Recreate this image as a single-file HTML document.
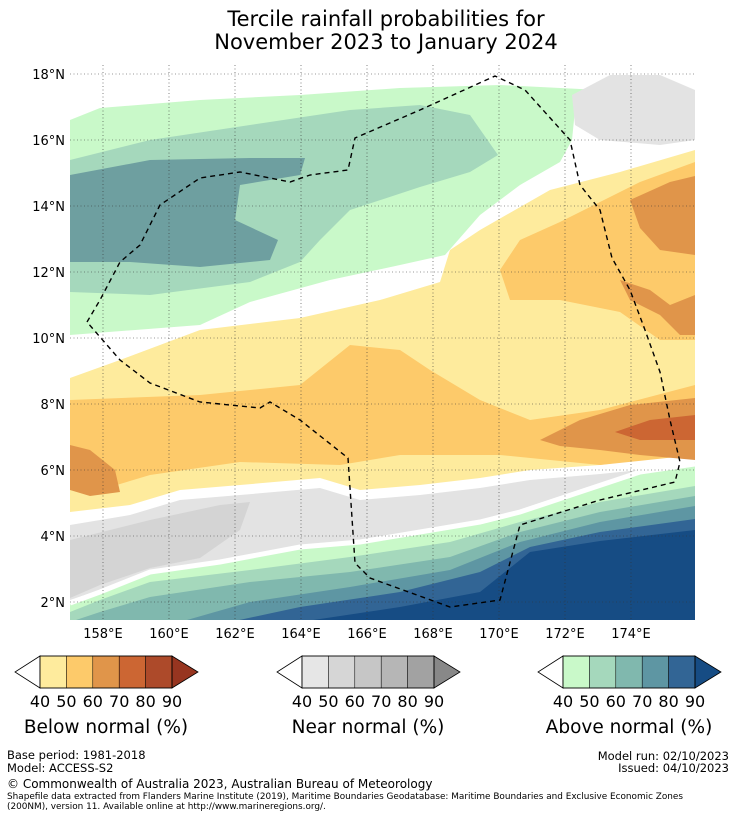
<!DOCTYPE html>
<html><head><meta charset="utf-8">
<style>
body{margin:0;background:#fff;width:736px;height:816px;overflow:hidden;font-family:"DejaVu Sans","Liberation Sans",sans-serif;}
svg text{font-family:"DejaVu Sans","Liberation Sans",sans-serif;}
</style></head>
<body>
<svg id="chart" width="736" height="816" viewBox="0 0 736 816" xmlns="http://www.w3.org/2000/svg">
<text x="386" y="26" font-size="21" text-anchor="middle">Tercile rainfall probabilities for</text>
<text x="386" y="49" font-size="21" text-anchor="middle">November 2023 to January 2024</text>
<defs><clipPath id="mapclip"><rect x="70" y="65" width="625" height="555"/></clipPath></defs>
<g id="map" clip-path="url(#mapclip)"></g>
<g id="over"></g>
<g id="bars"></g>
<text x="7" y="759" font-size="11.5">Base period: 1981-2018</text>
<text x="7" y="772" font-size="11.5">Model: ACCESS-S2</text>
<text x="729" y="760" font-size="11.5" text-anchor="end">Model run: 02/10/2023</text>
<text x="729" y="772" font-size="11.5" text-anchor="end">Issued: 04/10/2023</text>
<text x="7" y="788" font-size="12">© Commonwealth of Australia 2023, Australian Bureau of Meteorology</text>
<text x="7" y="799" font-size="8.9">Shapefile data extracted from Flanders Marine Institute (2019), Maritime Boundaries Geodatabase: Maritime Boundaries and Exclusive Economic Zones</text>
<text x="7" y="809" font-size="8.9">(200NM), version 11. Available online at http://www.marineregions.org/.</text>
</svg>
<script>
const lonTicks=[158,160,162,164,166,168,170,172,174];
const latTicks=[2,4,6,8,10,12,14,16,18];
const barTicks=[40,50,60,70,80,90];
const belowColors=['#feeb9d','#fdca6a','#e0954a','#cc6633','#ad4a2a','#973520'];
const nearColors=['#e6e6e6','#d6d6d6','#c6c6c6','#b6b6b6','#a2a2a2','#888888'];
const aboveColors=['#c9f9c9','#a5d8bc','#80b8ae','#5e96a3','#326595','#164c84'];
const barTitles=['Below normal (%)','Near normal (%)','Above normal (%)'];
const NS='http://www.w3.org/2000/svg';
const X=lon=>70+(lon-157)*33;
const Y=lat=>74+(18-lat)*33;
const regions=[
['above-40-north','#c9f9c9',[[70,120],[100,108],[200,100],[300,95],[400,88],[500,85],[600,90],[575,110],[572,140],[560,162],[520,185],[480,215],[445,255],[400,265],[330,280],[250,302],[200,325],[70,335]]],
['above-50-north','#a5d8bc',[[70,160],[150,140],[250,125],[350,110],[420,105],[470,115],[498,155],[470,172],[420,187],[350,210],[320,240],[300,262],[250,282],[150,295],[70,292]]],
['above-60-north','#6e9fa0',[[70,175],[150,160],[250,158],[305,158],[300,175],[240,185],[235,220],[278,240],[270,260],[200,267],[130,262],[70,262]]],
['near-40-ne','#e3e3e3',[[572,95],[610,75],[660,75],[695,90],[695,140],[660,145],[600,140],[575,125]]],
['below-40','#feeb9d',[[70,378],[120,360],[200,330],[300,318],[380,300],[440,282],[450,250],[480,230],[550,190],[620,172],[695,150],[695,455],[640,460],[600,465],[530,470],[480,478],[420,485],[360,490],[320,478],[240,485],[180,490],[130,505],[70,512]]],
['below-50-mid','#fdca6a',[[70,400],[200,395],[300,385],[350,345],[400,350],[430,370],[480,400],[530,420],[600,410],[695,385],[695,455],[600,465],[500,455],[400,455],[340,465],[240,462],[150,475],[100,490],[70,490]]],
['below-50-ne','#fdca6a',[[500,270],[520,240],[560,222],[600,202],[640,182],[695,162],[695,340],[660,340],[620,312],[560,300],[510,300]]],
['below-60-ne','#e0954a',[[630,200],[670,182],[695,176],[695,255],[660,250],[640,228]]],
['below-60-e','#e0954a',[[620,280],[650,290],[670,305],[695,295],[695,335],[680,335],[660,315],[630,300]]],
['below-60-se','#e0954a',[[540,440],[580,420],[630,405],[695,398],[695,460],[640,455],[600,450],[560,446]]],
['below-70-se','#cc6633',[[615,432],[650,420],[695,415],[695,440],[640,440]]],
['below-60-w','#e0954a',[[70,445],[90,450],[115,470],[120,492],[90,496],[70,490]]],
['near-40-s','#e3e3e3',[[70,525],[130,515],[180,500],[240,495],[320,488],[360,500],[420,495],[480,488],[530,480],[600,474],[640,470],[695,465],[695,462],[640,470],[580,490],[520,510],[480,520],[420,530],[360,540],[300,545],[220,560],[150,570],[100,590],[70,600]]],
['near-50-sw','#d4d4d4',[[70,540],[150,520],[220,505],[250,502],[240,530],[200,558],[150,568],[100,585],[70,598]]]
];
const aboveTops=[
[[70,603],[100,592],[150,572],[220,562],[300,547],[360,542],[420,532],[480,522],[520,512],[580,492],[640,472],[695,464]],
[[70,612],[100,600],[150,582],[250,570],[350,557],[450,542],[520,522],[600,502],[695,486]],
[[70,622],[100,612],[150,597],[250,582],[350,572],[450,557],[520,532],[600,512],[695,496]],
[[180,622],[250,602],[350,587],[450,570],[520,542],[600,522],[695,506]],
[[230,622],[300,607],[400,592],[480,572],[530,547],[600,532],[695,519]],
[[300,622],[400,607],[480,592],[530,552],[600,541],[695,530]]
];
const border=[[87,322],[100,300],[120,262],[140,245],[160,205],[200,178],[240,172],[290,182],[310,175],[348,170],[355,138],[420,110],[495,76],[525,90],[570,140],[580,185],[600,210],[612,258],[630,290],[645,330],[660,372],[670,420],[680,462],[675,482],[600,500],[520,525],[500,600],[450,607],[370,578],[355,563],[348,458],[300,420],[270,402],[260,408],[200,402],[150,383],[120,360],[87,322]];
const map=document.getElementById('map'),over=document.getElementById('over'),bars=document.getElementById('bars');
function mk(tag,attrs,parent){const e=document.createElementNS(NS,tag);for(const k in attrs)e.setAttribute(k,attrs[k]);parent.appendChild(e);return e;}
const pts=a=>a.map(p=>p.join(',')).join(' ');
regions.forEach(r=>{const e=mk('polygon',{points:pts(r[2]),fill:r[1]},map);

});
aboveTops.forEach((t,i)=>{const poly=t.concat([[695,625],[70,625]]);const e=mk('polygon',{points:pts(poly),fill:aboveColors[i]},map);

});
const gap=mk('polyline',{points:pts(aboveTops[0]),fill:'none',stroke:'#fff','stroke-width':5},map);


lonTicks.forEach(v=>{const g=mk('line',{x1:X(v),x2:X(v),y1:65,y2:620,stroke:'#333','stroke-width':0.6,'stroke-dasharray':'1,2.5'},over);


const t=mk('text',{x:X(v),y:638,'font-size':13,'text-anchor':'middle'},over);t.textContent=v+'°E';

});
latTicks.forEach(v=>{const g=mk('line',{x1:70,x2:695,y1:Y(v),y2:Y(v),stroke:'#333','stroke-width':0.6,'stroke-dasharray':'1,2.5'},over);


const t=mk('text',{x:65,y:Y(v)+5,'font-size':13,'text-anchor':'end'},over);t.textContent=v+'°N';

});
const b=mk('polyline',{points:pts(border),fill:'none',stroke:'#000','stroke-width':1.4,'stroke-dasharray':'5,4'},over);


const starts=[40,302,563];const sets=[belowColors,nearColors,aboveColors];
const bw=26.4,by=656,bh=32;
sets.forEach((cols,si)=>{const x0=starts[si];
const g=mk('g',{},bars);


mk('polygon',{points:`${x0},${by} ${x0-25},${by+bh/2} ${x0},${by+bh}`,fill:'#fff',stroke:'#000','stroke-width':0.8},g);
for(let i=0;i<5;i++)mk('rect',{x:x0+i*bw,y:by,width:bw,height:bh,fill:cols[i],stroke:'#000','stroke-width':0.5},g);
const xe=x0+5*bw;
mk('polygon',{points:`${xe},${by} ${xe+26},${by+bh/2} ${xe},${by+bh}`,fill:cols[5],stroke:'#000','stroke-width':0.8},g);
mk('rect',{x:x0,y:by,width:5*bw,height:bh,fill:'none',stroke:'#000','stroke-width':0.8},g);
barTicks.forEach((t,i)=>{const tx=mk('text',{x:x0+i*bw,y:707,'font-size':16,'text-anchor':'middle'},g);tx.textContent=t;});
const tt=mk('text',{x:x0+2.5*bw,y:733,'font-size':18.5,'text-anchor':'middle'},g);tt.textContent=barTitles[si];

});
</script>
</body></html>
